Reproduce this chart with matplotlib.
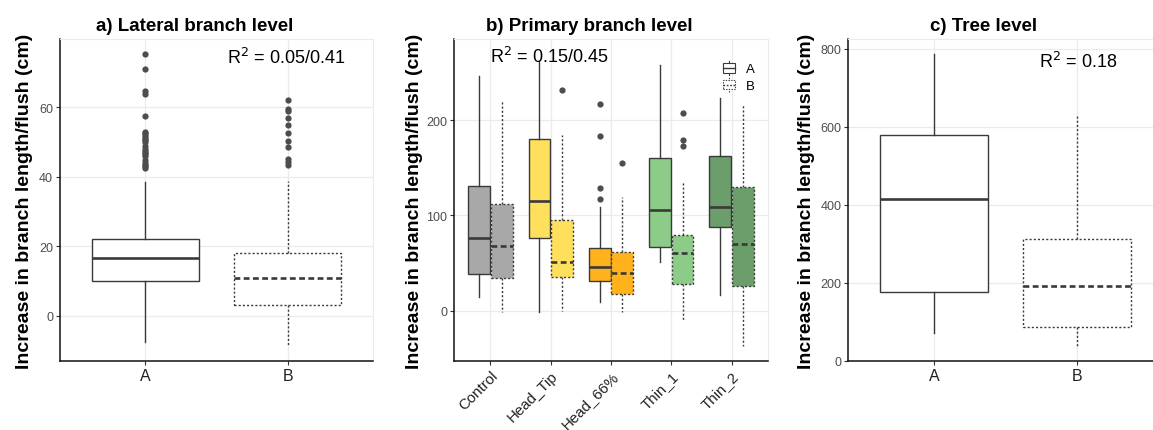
import matplotlib
matplotlib.use("Agg")
import matplotlib.pyplot as plt
from matplotlib.legend_handler import HandlerBase
from matplotlib.lines import Line2D
from matplotlib.patches import Rectangle

plt.rcParams['font.family'] = ['Liberation Sans', 'DejaVu Sans']

# box stats per group: [whisker low, Q1, median, Q3, whisker high]
groups = ["A", "B"]
lateral_stats = [[-7.4, 10.1, 16.6, 22.1, 38.4],
                 [-8.6, 3.1, 11.0, 18.0, 38.9]]
lateral_fliers_A = [75.5, 71.0, 64.8, 63.9, 57.5, 53.0, 52.5, 52.0, 51.5, 51.0, 50.5,
                    50.0, 49.0, 48.0, 47.5, 47.0, 46.5, 46.0, 45.0, 44.0, 43.5, 43.0, 42.5]
lateral_fliers_B = [62.1, 59.5, 59.1, 57.0, 55.0, 52.6, 50.3, 48.5, 45.2, 44.2, 43.4]

treatments = ["Control", "Head_Tip", "Head_66%", "Thin_1", "Thin_2"]
primary_A = [[14, 39, 76.6, 130.4, 245.8],
             [-1.7, 76.6, 114.7, 180, 262],
             [9.4, 31, 46, 65.4, 109],
             [50.7, 66.4, 106, 160, 257.7],
             [16.8, 87.8, 109, 162, 222.7]]
primary_B = [[-1.7, 34, 68, 112, 221],
             [0, 35.7, 51, 95, 184],
             [-1.7, 18, 39.5, 62, 119],
             [-9.4, 28, 60.5, 79.4, 136],
             [-36.7, 25.5, 69.6, 130, 216.4]]
primary_fliers_A = [[], [], [117.5, 128.7, 183, 216.4], [], []]
primary_fliers_B = [[], [231.5], [154.5], [172.6, 179.5, 207.3], []]
treat_colors = ["#A8A8A8", "#FFE05C", "#FFB21C", "#8DCB89", "#6B9E6B"]

tree_stats = [[70, 175.4, 415, 579, 787],
              [34, 85.6, 192.5, 312, 629]]

EDGE = "#3a3a3a"
YLAB = "Increase in branch length/flush (cm)"


def make_stats(rows, fliers):
    return [dict(whislo=r[0], q1=r[1], med=r[2], q3=r[3], whishi=r[4], fliers=f)
            for r, f in zip(rows, fliers)]


def draw_boxes(ax, stats, positions, width, colors, dotted):
    ls = (0, (1.5, 1.5)) if dotted else '-'
    bp = ax.bxp(stats, positions=positions, widths=width, patch_artist=True,
                showcaps=False, manage_ticks=False,
                boxprops=dict(linewidth=1.0, edgecolor=EDGE, linestyle=ls),
                whiskerprops=dict(linewidth=1.0, color=EDGE, linestyle=ls),
                medianprops=dict(linewidth=1.9, color=EDGE,
                                 linestyle=(0, (2.2, 1.3)) if dotted else '-'),
                flierprops=dict(marker='o', markersize=4.5, markerfacecolor='#4d4d4d',
                                markeredgecolor='none'))
    for patch, c in zip(bp['boxes'], colors):
        patch.set_facecolor(c)
    return bp


def style(ax, title, label_x):
    ax.set_facecolor('white')
    ax.grid(True, color='#EBEBEB', linewidth=0.9)
    ax.set_axisbelow(True)
    for s in ['top', 'right']:
        ax.spines[s].set_color('#EBEBEB')
    for s in ['left', 'bottom']:
        ax.spines[s].set_linewidth(1.1)
        ax.spines[s].set_color('#111111')
    ax.tick_params(axis='both', color='#333333', length=3, width=0.8)
    ax.tick_params(axis='y', labelsize=9, labelcolor='#4d4d4d', pad=2)
    ax.tick_params(axis='x', labelsize=11.5, labelcolor='#222222', pad=2)
    ax.set_title(title, fontsize=13.5, fontweight='bold', x=0.43, pad=6.5)
    ax.set_ylabel(YLAB, fontsize=14, fontweight='bold')
    ax.yaxis.set_label_coords(label_x, 0.5)


class BoxKey(HandlerBase):
    def __init__(self, dotted):
        super().__init__()
        self.dotted = dotted

    def create_artists(self, legend, orig_handle, xdescent, ydescent, width, height,
                       fontsize, trans):
        ls = (0, (1.2, 1.2)) if self.dotted else '-'
        cx = width / 2 - xdescent
        y0 = -ydescent
        whisk = Line2D([cx, cx], [y0 - 1, y0 + height + 1], color=EDGE, lw=0.8,
                       ls=ls, transform=trans)
        box = Rectangle((cx - width * 0.4, y0 + height * 0.1), width * 0.8, height * 0.8,
                        facecolor='white', edgecolor=EDGE, lw=0.8, ls=ls, transform=trans)
        med = Line2D([cx - width * 0.4, cx + width * 0.4], [y0 + height / 2] * 2,
                     color=EDGE, lw=1.0, ls=ls, transform=trans)
        return [whisk, box, med]


fig = plt.figure(figsize=(11.53, 4.31), dpi=100)
bottom, height = 0.1594, 0.7478

# a) lateral branch level
ax1 = fig.add_axes([0.0520, bottom, 0.2715, height])
draw_boxes(ax1, make_stats(lateral_stats[:1], [lateral_fliers_A]), [1], 0.75, ['white'], False)
draw_boxes(ax1, make_stats(lateral_stats[1:], [lateral_fliers_B]), [2], 0.75, ['white'], True)
ax1.set_xlim(0.4, 2.6)
ax1.set_ylim(-13.1, 79.7)
ax1.set_xticks([1, 2], groups)
ax1.set_yticks([0, 20, 40, 60])
style(ax1, "a) Lateral branch level", -0.086)
ax1.text(0.534, 0.944, r"R$^2$ = 0.05/0.41", transform=ax1.transAxes, fontsize=13,
         ha='left', va='center')

# b) primary branch level
ax2 = fig.add_axes([0.3940, bottom, 0.2718, height])
xs = list(range(1, len(treatments) + 1))
draw_boxes(ax2, make_stats(primary_A, primary_fliers_A), [x - 0.1875 for x in xs], 0.36,
           treat_colors, False)
draw_boxes(ax2, make_stats(primary_B, primary_fliers_B), [x + 0.1875 for x in xs], 0.36,
           treat_colors, True)
ax2.set_xlim(0.4, 5.6)
ax2.set_ylim(-53.1, 285)
ax2.set_xticks(xs, treatments)
ax2.set_yticks([0, 100, 200])
style(ax2, "b) Primary branch level", -0.099)
plt.setp(ax2.get_xticklabels(), rotation=45, ha='right', rotation_mode='anchor',
         fontsize=10.8)
ax2.text(0.115, 0.947, r"R$^2$ = 0.15/0.45", transform=ax2.transAxes, fontsize=13,
         ha='left', va='center')
h_a = Rectangle((0, 0), 1, 1)
h_b = Rectangle((0, 0), 1, 1)
ax2.legend([h_a, h_b], groups, handler_map={h_a: BoxKey(False), h_b: BoxKey(True)},
           loc='upper right', bbox_to_anchor=(0.975, 0.945), borderaxespad=0,
           frameon=False, fontsize=9.5, handlelength=1.1, handleheight=1.0,
           labelspacing=0.25, handletextpad=0.7)

# c) tree level
ax3 = fig.add_axes([0.7357, bottom, 0.2729, height])
draw_boxes(ax3, make_stats(tree_stats[:1], [[]]), [1], 0.75, ['white'], False)
draw_boxes(ax3, make_stats(tree_stats[1:], [[]]), [2], 0.75, ['white'], True)
ax3.set_xlim(0.4, 2.6)
ax3.set_ylim(-1.5, 825.6)
ax3.set_xticks([1, 2], groups)
ax3.set_yticks([0, 200, 400, 600, 800])
style(ax3, "c) Tree level", -0.105)
ax3.text(0.606, 0.932, r"R$^2$ = 0.18", transform=ax3.transAxes, fontsize=13,
         ha='left', va='center')

fig.savefig("out.png", dpi=100)
